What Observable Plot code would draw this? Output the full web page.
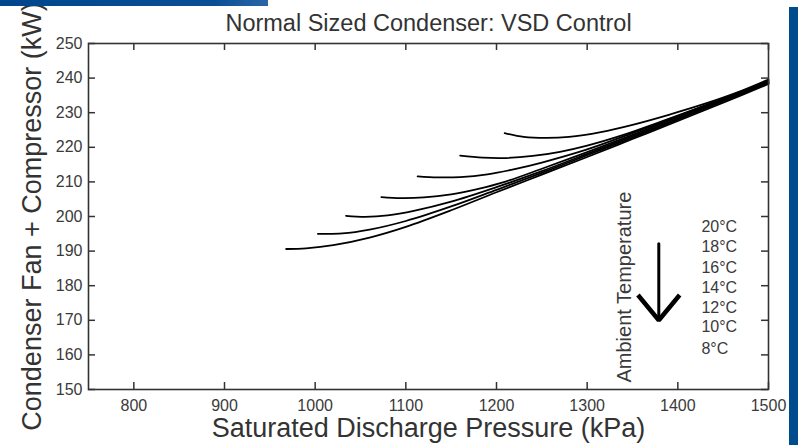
<!DOCTYPE html>
<html>
<head>
<meta charset="utf-8">
<script src="https://cdn.jsdelivr.net/npm/d3@7"></script>
<script src="https://cdn.jsdelivr.net/npm/@observablehq/plot@0.6"></script>
<style>
  html, body { margin: 0; padding: 0; background: #fff; }
  #wrap { position: relative; width: 798px; height: 445px; overflow: hidden; }
  #barTop { position: absolute; left: 0; top: 0; width: 268px; height: 6px; background: linear-gradient(90deg, #00468c, #0a4f95 80%, #2a66a6); z-index: 2; }
  #barRight { position: absolute; left: 789px; top: 7px; width: 9px; height: 438px; background: #004a8e; z-index: 2; }
</style>
</head>
<body>
<div id="wrap"><div id="barTop"></div><div id="barRight"></div><div id="chart"></div></div>
<script>
// ---- data ----
const title = "Normal Sized Condenser: VSD Control";
const xLabel = "Saturated Discharge Pressure (kPa)";
const yLabel = "Condenser Fan + Compressor (kW)";
const xTicks = [800, 900, 1000, 1100, 1200, 1300, 1400, 1500];
const yTicks = [150, 160, 170, 180, 190, 200, 210, 220, 230, 240, 250];

// [pressure kPa, power kW]
const curve8  = [[968,190.6],[990,190.8],[1020,191.7],[1060,193.9],[1100,197.0],[1150,201.8],[1200,207.0],[1250,212.1],[1300,217.2],[1350,222.4],[1400,227.6],[1450,232.9],[1500,238.3]];
const curve10 = [[1003,195.0],[1030,195.1],[1060,196.2],[1100,198.7],[1150,202.9],[1200,207.7],[1250,212.6],[1300,217.7],[1350,222.8],[1400,228.0],[1450,233.3],[1500,238.5]];
const curve12 = [[1034,200.2],[1055,199.9],[1080,200.3],[1110,201.7],[1150,204.3],[1200,208.5],[1250,213.1],[1300,218.1],[1350,223.2],[1400,228.3],[1450,233.6],[1500,238.7]];
const curve14 = [[1073,205.6],[1095,205.3],[1120,205.5],[1150,206.4],[1180,208.0],[1210,210.1],[1250,213.8],[1300,218.6],[1350,223.6],[1400,228.7],[1450,233.9],[1500,238.9]];
const curve16 = [[1113,211.6],[1135,211.3],[1160,211.4],[1190,212.2],[1220,213.7],[1250,215.6],[1300,219.4],[1350,224.1],[1400,229.0],[1450,234.1],[1500,239.1]];
const curve18 = [[1160,217.6],[1185,217.0],[1210,216.9],[1240,217.5],[1270,218.7],[1300,220.5],[1340,223.6],[1380,227.3],[1420,231.1],[1460,235.0],[1500,239.3]];
const curve20 = [[1209,224.1],[1230,223.0],[1255,222.7],[1280,223.0],[1315,224.4],[1350,226.5],[1390,229.4],[1430,232.6],[1465,235.8],[1500,239.6]];

const seriesNames = ["8°C", "10°C", "12°C", "14°C", "16°C", "18°C", "20°C"];
const seriesData = [curve8, curve10, curve12, curve14, curve16, curve18, curve20];

// legend labels (listed top to bottom) and their positions in data units
const legendLabels = ["20°C", "18°C", "16°C", "14°C", "12°C", "10°C", "8°C"];
const legendX = 1426;
const legendY = [196.9, 191.1, 185.2, 179.4, 173.6, 168.0, 161.8];

// "Ambient Temperature" annotation and arrow, in data units
const annText = "Ambient Temperature";
const annPos = {x: 1341, y: 179.6};
const arrowShaft = [[1379, 192.1], [1379, 171.0]];
const arrowHead = [[1356, 177.3], [1379, 170.0], [1402, 177.3]];

// ---- build table ----
const rows = [];
seriesData.forEach((arr, i) => arr.forEach(([p, kw]) => rows.push({t: seriesNames[i], p, kw})));

const W = 798, H = 445;
const mL = 88, mR = 30, mT = 43, mB = 56;
const innerW = W - mL - mR, innerH = H - mT - mB;
const tick = 7;
const font = "'Liberation Sans', Arial, Helvetica, sans-serif";

const chart = Plot.plot({
  width: W, height: H,
  marginLeft: mL, marginRight: mR, marginTop: mT, marginBottom: mB,
  style: {fontFamily: font, fontSize: "16px", color: "#3a3a3a", background: "transparent", overflow: "visible"},
  x: {domain: [750, 1500], axis: null},
  y: {domain: [150, 250], axis: null},
  marks: [
    Plot.axisX({ticks: xTicks, tickSize: 0, tickPadding: 10, tickFormat: d => String(d), label: null, fontSize: 16, fill: "#3a3a3a"}),
    Plot.axisY({ticks: yTicks, tickSize: 0, tickPadding: 6, tickFormat: d => String(d), label: null, fontSize: 16, fill: "#3a3a3a"}),
    // inward ticks on all four sides
    Plot.tickX(xTicks, {x: d => d, insetTop: innerH - tick, stroke: "#333", strokeWidth: 1.5}),
    Plot.tickX(xTicks, {x: d => d, insetBottom: innerH - tick, stroke: "#333", strokeWidth: 1.5}),
    Plot.tickY(yTicks, {y: d => d, insetRight: innerW - tick, stroke: "#333", strokeWidth: 1.5}),
    Plot.tickY(yTicks, {y: d => d, insetLeft: innerW - tick, stroke: "#333", strokeWidth: 1.5}),
    Plot.line(rows, {x: "p", y: "kw", z: "t", curve: "catmull-rom", stroke: "#000", strokeWidth: 1.8}),
    Plot.frame({stroke: "#333", strokeWidth: 1.6}),
    // legend labels
    Plot.text(legendLabels, {x: () => legendX, y: (d, i) => legendY[i], text: d => d, textAnchor: "start", lineAnchor: "middle", fontSize: 16, fill: "#3a3a3a"}),
    // annotation
    Plot.text([annText], {x: () => annPos.x, y: () => annPos.y, text: d => d, rotate: -90, lineAnchor: "middle", textAnchor: "middle", fontSize: 20, fill: "#3a3a3a"}),
    Plot.line(arrowShaft, {x: d => d[0], y: d => d[1], stroke: "#000", strokeWidth: 3}),
    Plot.line(arrowHead, {x: d => d[0], y: d => d[1], stroke: "#000", strokeWidth: 4.5, strokeLinejoin: "miter", strokeLinecap: "butt"}),
    // title and axis labels
    Plot.text([title], {frameAnchor: "top", dy: -20, text: d => d, lineAnchor: "middle", textAnchor: "middle", fontSize: 23.5, fill: "#333"}),
    Plot.text([xLabel], {frameAnchor: "bottom", dy: 38.5, text: d => d, lineAnchor: "middle", textAnchor: "middle", fontSize: 27, fill: "#333"}),
    Plot.text([yLabel], {frameAnchor: "left", dx: -56, rotate: -90, text: d => d, lineAnchor: "middle", textAnchor: "middle", fontSize: 27, fill: "#333"})
  ]
});
document.getElementById("chart").appendChild(chart);
</script>
</body>
</html>
